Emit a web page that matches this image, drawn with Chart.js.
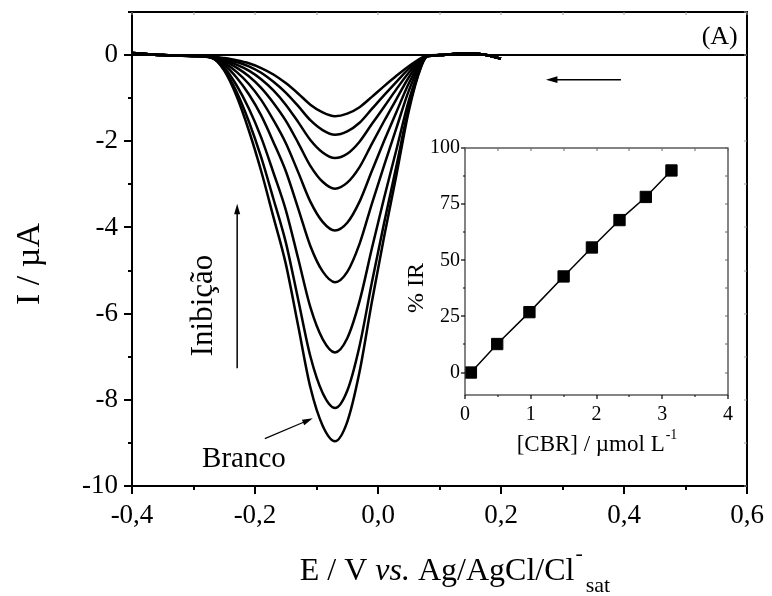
<!DOCTYPE html>
<html>
<head>
<meta charset="utf-8">
<script src="https://cdn.jsdelivr.net/npm/chart.js@4.4.1/dist/chart.umd.min.js"></script>
<style>
html, body { margin: 0; padding: 0; background: #fff; }
#wrap { position: relative; width: 772px; height: 596px; }
#mainChart { position: absolute; left: 0; top: 0; }
#insetChart { position: absolute; left: 395px; top: 130px; }
</style>
</head>
<body>
<div id="wrap">
  <canvas id="mainChart" width="772" height="596"></canvas>
  <canvas id="insetChart" width="345" height="340"></canvas>
</div>
<script>
// potential axis (V) shared by all voltammograms
var potentials = [-0.40, -0.35, -0.30, -0.27, -0.25, -0.23, -0.21, -0.19, -0.17, -0.15, -0.13, -0.11, -0.09,
  -0.07, -0.05, -0.03, -0.01, 0.01, 0.03, 0.05, 0.07, 0.08, 0.10, 0.13, 0.16, 0.20];

// current (uA), from the smallest peak (most inhibited) down to the blank
var curve1 = [0.05, 0.00, -0.02, -0.03, -0.07, -0.12, -0.19, -0.30, -0.45, -0.65, -0.89, -1.15, -1.33, -1.42, -1.36, -1.21, -0.97, -0.72, -0.48, -0.26, -0.07, -0.01, 0.00, 0.03, 0.03, -0.08];
var curve2 = [0.05, 0.00, -0.02, -0.03, -0.09, -0.16, -0.26, -0.41, -0.62, -0.87, -1.18, -1.51, -1.74, -1.85, -1.77, -1.57, -1.25, -0.93, -0.62, -0.32, -0.09, -0.02, 0.00, 0.03, 0.03, -0.08];
var curve3 = [0.05, 0.00, -0.02, -0.04, -0.11, -0.22, -0.36, -0.56, -0.82, -1.15, -1.55, -1.97, -2.26, -2.39, -2.29, -2.01, -1.60, -1.20, -0.79, -0.41, -0.11, -0.02, 0.00, 0.03, 0.03, -0.08];
var curve4 = [0.05, 0.00, -0.02, -0.05, -0.14, -0.29, -0.49, -0.76, -1.11, -1.52, -2.03, -2.57, -2.94, -3.10, -2.96, -2.60, -2.06, -1.53, -1.02, -0.52, -0.13, -0.02, 0.00, 0.03, 0.03, -0.08];
var curve5 = [0.05, 0.00, -0.02, -0.05, -0.18, -0.39, -0.67, -1.04, -1.51, -2.04, -2.71, -3.40, -3.87, -4.07, -3.89, -3.40, -2.69, -1.99, -1.32, -0.66, -0.16, -0.02, 0.00, 0.03, 0.03, -0.08];
var curve6 = [0.05, 0.00, -0.02, -0.06, -0.23, -0.52, -0.91, -1.40, -2.02, -2.69, -3.55, -4.43, -5.02, -5.27, -5.03, -4.38, -3.45, -2.56, -1.69, -0.83, -0.20, -0.03, 0.00, 0.03, 0.03, -0.08];
var curve7 = [0.05, 0.00, -0.02, -0.07, -0.29, -0.70, -1.24, -1.91, -2.73, -3.59, -4.71, -5.85, -6.59, -6.90, -6.57, -5.71, -4.49, -3.31, -2.19, -1.06, -0.24, -0.03, 0.00, 0.03, 0.03, -0.08];
var curve8 = [0.05, 0.00, -0.02, -0.06, -0.34, -0.85, -1.54, -2.37, -3.34, -4.34, -5.66, -6.99, -7.84, -8.19, -7.79, -6.75, -5.28, -3.89, -2.57, -1.22, -0.27, -0.03, 0.00, 0.03, 0.03, -0.08];
var branco = [0.05, 0.00, -0.02, -0.05, -0.36, -0.95, -1.75, -2.69, -3.76, -4.84, -6.27, -7.71, -8.60, -8.96, -8.51, -7.35, -5.73, -4.21, -2.78, -1.30, -0.27, -0.02, 0.00, 0.03, 0.03, -0.08];

var xTicks = [-0.4, -0.2, 0, 0.2, 0.4, 0.6];
var xMinor = [-0.3, -0.1, 0.1, 0.3, 0.5];
var yTicks = [-10, -8, -6, -4, -2, 0];
var yMinor = [-9, -7, -5, -3, -1, 1];

// inset: calibration
var cbrConc = [0.09, 0.49, 0.98, 1.50, 1.93, 2.35, 2.75, 3.14];
var inhibition = [0, 12.7, 26.9, 42.8, 55.7, 67.9, 78.2, 90.0];
var insetXTicks = [0, 1, 2, 3, 4];
var insetXMinor = [0.5, 1.5, 2.5, 3.5];
var insetYTicks = [0, 25, 50, 75, 100];
var insetYMinor = [12.5, 37.5, 62.5, 87.5];

var SERIF = '"Liberation Serif", "Times New Roman", serif';

function toPoints(xs, ys) {
  return xs.map(function(x, i) { return { x: x, y: ys[i] }; });
}

// keep the plot box where it is in the figure, whatever the label sizes
function fixX(h) {
  return function(s) { s.height = h; s.paddingLeft = 0; s.paddingRight = 0; };
}
function fixY(w) {
  return function(s) { s.width = w; s.paddingTop = 0; s.paddingBottom = 0; };
}

function drawArrow(ctx, x1, y1, x2, y2, head, lw) {
  var a = Math.atan2(y2 - y1, x2 - x1);
  ctx.save();
  ctx.strokeStyle = '#000';
  ctx.fillStyle = '#000';
  ctx.lineWidth = lw;
  ctx.beginPath();
  ctx.moveTo(x1, y1);
  ctx.lineTo(x2 - Math.cos(a) * head * 0.8, y2 - Math.sin(a) * head * 0.8);
  ctx.stroke();
  ctx.beginPath();
  ctx.moveTo(x2, y2);
  ctx.lineTo(x2 - head * Math.cos(a - 0.28), y2 - head * Math.sin(a - 0.28));
  ctx.lineTo(x2 - head * Math.cos(a + 0.28), y2 - head * Math.sin(a + 0.28));
  ctx.closePath();
  ctx.fill();
  ctx.restore();
}

// tick marks drawn by hand so minor ticks and mirrored sides are possible
function drawTickSet(ctx, chart, cfg) {
  var a = chart.chartArea, xs = chart.scales.x, ys = chart.scales.y;
  ctx.save();
  ctx.strokeStyle = '#000';
  ctx.lineWidth = cfg.majorWidth;
  cfg.xMajor.forEach(function(v) {
    var p = Math.round(xs.getPixelForValue(v));
    ctx.beginPath(); ctx.moveTo(p, a.bottom); ctx.lineTo(p, a.bottom + cfg.majorLen); ctx.stroke();
  });
  cfg.yMajor.forEach(function(v) {
    var p = Math.round(ys.getPixelForValue(v));
    ctx.beginPath(); ctx.moveTo(a.left, p); ctx.lineTo(a.left - cfg.majorLen, p); ctx.stroke();
  });
  ctx.lineWidth = cfg.minorWidth;
  cfg.xMinor.forEach(function(v) {
    var p = Math.round(xs.getPixelForValue(v));
    ctx.beginPath(); ctx.moveTo(p, a.bottom); ctx.lineTo(p, a.bottom + cfg.minorLen); ctx.stroke();
  });
  cfg.yMinor.forEach(function(v) {
    var p = Math.round(ys.getPixelForValue(v));
    ctx.beginPath(); ctx.moveTo(a.left, p); ctx.lineTo(a.left - cfg.minorLen, p); ctx.stroke();
  });
  // faint mirrored ticks on top and right
  ctx.strokeStyle = cfg.mirrorColor;
  ctx.lineWidth = 1;
  cfg.xMajor.concat(cfg.xMinor).forEach(function(v) {
    var p = Math.round(xs.getPixelForValue(v));
    ctx.beginPath(); ctx.moveTo(p, a.top); ctx.lineTo(p, a.top + cfg.mirrorLen); ctx.stroke();
  });
  cfg.yMajor.concat(cfg.yMinor).forEach(function(v) {
    var p = Math.round(ys.getPixelForValue(v));
    ctx.beginPath(); ctx.moveTo(a.right, p); ctx.lineTo(a.right - cfg.mirrorLen, p); ctx.stroke();
  });
  ctx.restore();
}

var mainDecor = {
  id: 'mainDecor',
  beforeDatasetsDraw: function(chart) {
    var ctx = chart.ctx, a = chart.chartArea, ys = chart.scales.y;
    // zero line
    var y0 = ys.getPixelForValue(0);
    ctx.save();
    ctx.strokeStyle = '#000';
    ctx.lineWidth = 2;
    ctx.beginPath(); ctx.moveTo(a.left, y0); ctx.lineTo(a.right, y0); ctx.stroke();
    ctx.restore();
  },
  afterDraw: function(chart) {
    var ctx = chart.ctx, a = chart.chartArea, xs = chart.scales.x, ys = chart.scales.y;
    function X(v) { return xs.getPixelForValue(v); }
    function Y(v) { return ys.getPixelForValue(v); }

    ctx.save();
    ctx.strokeStyle = '#000';
    ctx.lineWidth = 2;
    ctx.strokeRect(a.left, a.top, a.right - a.left, a.bottom - a.top);
    ctx.restore();

    drawTickSet(ctx, chart, {
      xMajor: xTicks, xMinor: xMinor, yMajor: yTicks, yMinor: yMinor,
      majorLen: 8, minorLen: 4, majorWidth: 2, minorWidth: 2,
      mirrorLen: 3, mirrorColor: '#999'
    });

    ctx.save();
    ctx.fillStyle = '#000';

    // (A) label
    ctx.font = '26px ' + SERIF;
    ctx.textAlign = 'right';
    ctx.textBaseline = 'middle';
    ctx.fillText('(A)', X(0.585), Y(0.42));

    // scan direction arrow
    drawArrow(ctx, X(0.395), Y(-0.57), X(0.273), Y(-0.57), 12, 1.5);

    // Inibição arrow and label
    drawArrow(ctx, X(-0.229), Y(-7.27), X(-0.229), Y(-3.45), 11, 1.5);
    ctx.save();
    ctx.translate(X(-0.283), Y(-5.81));
    ctx.rotate(-Math.PI / 2);
    ctx.font = '31px ' + SERIF;
    ctx.textAlign = 'center';
    ctx.textBaseline = 'middle';
    ctx.fillText('Inibição', 0, 0);
    ctx.restore();

    // Branco label and arrow
    ctx.font = '29px ' + SERIF;
    ctx.textAlign = 'left';
    ctx.textBaseline = 'alphabetic';
    ctx.fillText('Branco', X(-0.286), Y(-9.57));
    drawArrow(ctx, X(-0.184), Y(-8.90), X(-0.106), Y(-8.43), 11, 1.2);

    // y axis title
    ctx.save();
    ctx.translate(30, 264);
    ctx.rotate(-Math.PI / 2);
    ctx.font = '34px ' + SERIF;
    ctx.textAlign = 'center';
    ctx.textBaseline = 'middle';
    ctx.fillText('I / \u00b5A', 0, 0);
    ctx.restore();

    // x axis title with italic vs., superscript and subscript
    var big = '32px ' + SERIF, ital = 'italic 32px ' + SERIF, small = '22px ' + SERIF;
    var parts = [
      { t: 'E / V ', f: big }, { t: 'vs.', f: ital }, { t: ' Ag/AgCl/Cl', f: big }
    ];
    var total = 0;
    parts.forEach(function(p) { ctx.font = p.f; p.w = ctx.measureText(p.t).width; total += p.w; });
    ctx.font = small;
    var supW = ctx.measureText('-').width, subW = ctx.measureText('sat').width;
    total += supW + subW + 4;
    var cx = 455 - total / 2;
    var base = 580;
    ctx.textAlign = 'left';
    ctx.textBaseline = 'alphabetic';
    parts.forEach(function(p) { ctx.font = p.f; ctx.fillText(p.t, cx, base); cx += p.w; });
    ctx.font = small;
    ctx.fillText('-', cx + 1, base - 20);
    ctx.fillText('sat', cx + supW + 4, base + 12);
    ctx.restore();
  }
};

var insetDecor = {
  id: 'insetDecor',
  afterDraw: function(chart) {
    var ctx = chart.ctx, a = chart.chartArea;
    ctx.save();
    ctx.strokeStyle = '#333';
    ctx.lineWidth = 1.2;
    ctx.strokeRect(a.left, a.top, a.right - a.left, a.bottom - a.top);
    ctx.restore();

    drawTickSet(ctx, chart, {
      xMajor: insetXTicks, xMinor: insetXMinor, yMajor: insetYTicks, yMinor: insetYMinor,
      majorLen: 4, minorLen: 2, majorWidth: 1.2, minorWidth: 1,
      mirrorLen: 3, mirrorColor: '#666'
    });

    ctx.save();
    ctx.fillStyle = '#000';
    // % IR
    ctx.save();
    ctx.translate(22, 158);
    ctx.rotate(-Math.PI / 2);
    ctx.font = '24px ' + SERIF;
    ctx.textAlign = 'center';
    ctx.textBaseline = 'middle';
    ctx.fillText('% IR', 0, 0);
    ctx.restore();

    // [CBR] / umol L-1
    ctx.font = '23px ' + SERIF;
    var main = '[CBR] / \u00b5mol L';
    var w1 = ctx.measureText(main).width;
    ctx.font = '14px ' + SERIF;
    var w2 = ctx.measureText('-1').width;
    var sx = (a.left + a.right) / 2 - (w1 + w2) / 2;
    ctx.textAlign = 'left';
    ctx.textBaseline = 'alphabetic';
    ctx.font = '23px ' + SERIF;
    ctx.fillText(main, sx, 321);
    ctx.font = '14px ' + SERIF;
    ctx.fillText('-1', sx + w1 + 1, 309);
    ctx.restore();
  }
};

document.addEventListener('DOMContentLoaded', function() {
  var curves = [curve1, curve2, curve3, curve4, curve5, curve6, curve7, curve8, branco];

  var mainChart = new Chart(document.getElementById('mainChart').getContext('2d'), {
    type: 'line',
    data: {
      datasets: curves.map(function(c, i) {
        return {
          label: i === curves.length - 1 ? 'Branco' : 'curve ' + (i + 1),
          data: toPoints(potentials, c),
          borderColor: '#000',
          borderWidth: 2.5,
          pointRadius: 0,
          fill: false,
          cubicInterpolationMode: 'monotone'
        };
      })
    },
    options: {
      responsive: false,
      animation: false,
      devicePixelRatio: 1,
      layout: { padding: { left: 0, top: 12, right: 25, bottom: 0 } },
      plugins: { legend: { display: false }, tooltip: { enabled: false } },
      scales: {
        x: {
          type: 'linear', min: -0.4, max: 0.6,
          afterBuildTicks: function(s) { s.ticks = xTicks.map(function(v) { return { value: v }; }); },
          afterFit: fixX(110),
          grid: { display: false, drawTicks: false },
          border: { display: false },
          ticks: {
            color: '#000', padding: 14, maxRotation: 0, autoSkip: false,
            font: { family: SERIF, size: 27 },
            callback: function(v) { return v.toFixed(1).replace('.', ','); }
          }
        },
        y: {
          type: 'linear', min: -10, max: 1,
          afterBuildTicks: function(s) { s.ticks = yTicks.map(function(v) { return { value: v }; }); },
          afterFit: fixY(132),
          grid: { display: false, drawTicks: false },
          border: { display: false },
          ticks: {
            color: '#000', padding: 14, autoSkip: false,
            font: { family: SERIF, size: 27 },
            callback: function(v) { return String(v); }
          }
        }
      }
    },
    plugins: [mainDecor]
  });

  var insetChart = new Chart(document.getElementById('insetChart').getContext('2d'), {
    type: 'line',
    data: {
      datasets: [{
        label: '% IR',
        data: toPoints(cbrConc, inhibition),
        borderColor: '#000',
        borderWidth: 1.5,
        pointStyle: 'rect',
        pointRadius: 8,
        pointBackgroundColor: '#000',
        pointBorderColor: '#000',
        pointBorderWidth: 1,
        fill: false,
        tension: 0
      }]
    },
    options: {
      responsive: false,
      animation: false,
      devicePixelRatio: 1,
      layout: { padding: { left: 0, top: 18, right: 12, bottom: 0 } },
      plugins: { legend: { display: false }, tooltip: { enabled: false } },
      scales: {
        x: {
          type: 'linear', min: 0, max: 4,
          afterBuildTicks: function(s) { s.ticks = insetXTicks.map(function(v) { return { value: v }; }); },
          afterFit: fixX(75),
          grid: { display: false, drawTicks: false },
          border: { display: false },
          ticks: { color: '#000', padding: 8, maxRotation: 0, autoSkip: false, font: { family: SERIF, size: 20 } }
        },
        y: {
          type: 'linear', min: -10, max: 100,
          afterBuildTicks: function(s) { s.ticks = insetYTicks.map(function(v) { return { value: v }; }); },
          afterFit: fixY(70),
          grid: { display: false, drawTicks: false },
          border: { display: false },
          ticks: { color: '#000', padding: 5, autoSkip: false, font: { family: SERIF, size: 20 } }
        }
      }
    },
    plugins: [insetDecor]
  });
});
</script>
</body>
</html>
